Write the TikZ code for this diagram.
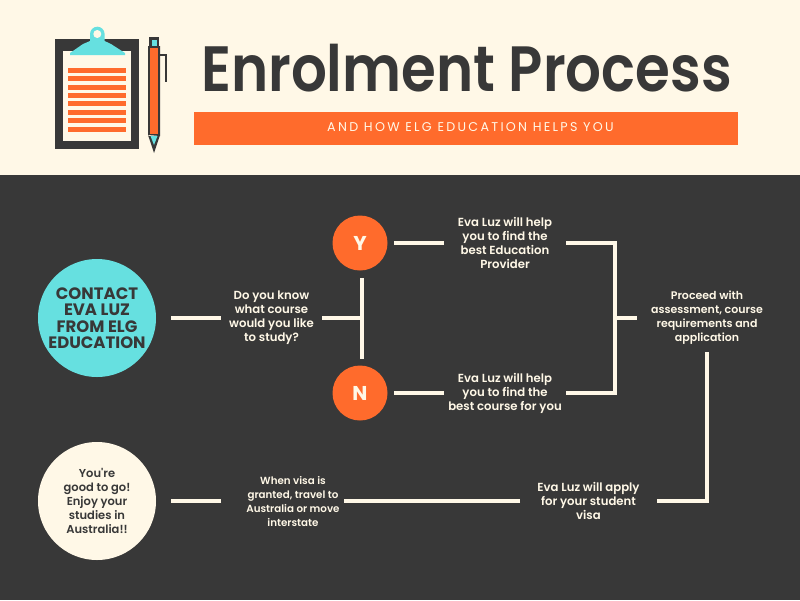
\documentclass[tikz,border=0pt]{standalone}
\usepackage{xcolor}
\usepackage{fontspec}
\setmainfont{Poppins}
\newfontfamily\medfont{Poppins SemiBold}
\newfontfamily\spacedfont[LetterSpace=18]{Poppins}
\definecolor{cream}{HTML}{FFF8E7}
\definecolor{ink}{HTML}{383838}
\definecolor{flame}{HTML}{FF6B2C}
\definecolor{aqua}{HTML}{66E0E0}
\usepackage{tikz}
\usetikzlibrary{calc}

\tikzset{
	link/.style={draw=cream,line width=4pt},
	say/.style={text=cream,font=\medfont\fontsize{#1}{14}\selectfont,align=center,inner sep=0pt,outer sep=0pt},
	say/.default=11.7,
	bigdisc/.style={circle,inner sep=0pt,minimum size=118pt,outer sep=15pt,align=center},
	choice/.style={circle,fill=flame,text=cream,inner sep=0pt,minimum size=55pt,outer sep=6.5pt,font=\bfseries\fontsize{20}{20}\selectfont}
}

\begin{document}
\begin{tikzpicture}[
		x=1pt,
		y=-1pt,
		node distance=150pt
	  ]
	  \useasboundingbox (0,0) rectangle (800,600);

	  % header and dark panel
	  \fill[cream] (0,0) rectangle (800,175);
	  \fill[ink] (0,175) rectangle (800,600);
	  \fill[flame] (194,112) rectangle (738,145);

	  \node[text=ink,font=\medfont\fontsize{64}{70}\selectfont,inner sep=0pt,transform shape,xscale=.88] (title) at (466.5,68) {Enrolment Process};
	  \node[text=cream,font=\spacedfont\fontsize{12.7}{14}\selectfont,inner sep=0pt] (subtitle) at (470.5,127.5) {AND HOW ELG EDUCATION HELPS YOU};

	  % clipboard
	  \fill[ink] (55,39) rectangle (139,149);
	  \fill[cream] (63,51) rectangle (131,141);
	  \foreach \rowy in {70,78.5,87,95.3,103.7,112.2,120.7,129}
	  	\fill[flame] (68,\rowy-2.5) rectangle (126,\rowy+2.5);
	  \fill[aqua] (70,55) -- (70,53) -- (83,44) -- (90,41) -- (90,34) arc (180:360:7.3) -- (104.6,41) -- (111,44) -- (125,53) -- (125,55) -- cycle;
	  \fill[cream] (97.3,34) circle (4);

	  % pen
	  \fill[ink] (149,37) rectangle (159,47);
	  \fill[aqua] (152,40) rectangle (156.5,47);
	  \fill[ink] (148,46) rectangle (160,136) -- (160,135) -- (154,153) -- (148,135) -- cycle;
	  \fill[flame] (150,48) rectangle (158,134);
	  \fill[aqua] (150.5,136) -- (157.5,136) -- (154,145) -- cycle;
	  \draw[ink,line width=1.5pt] (160,55) -- (166,55) -- (166,82);

	  % the steps
	  \node[bigdisc,fill=aqua,text=ink,font=\bfseries\fontsize{16.5}{16.5}\selectfont] (contact) at (97,318) {CONTACT\\EVA LUZ\\FROM ELG\\EDUCATION};
	  \node[say,minimum width=101pt] (question) [right of=contact,node distance=174.5pt] {Do you know\\what course\\would you like\\to study?};
	  \node[choice] (yes) at (360,243) {Y};
	  \node[choice] (no) [below of=yes] {N};
	  \node[say,minimum width=122pt] (findedu) [right of=yes,node distance=145pt] {Eva Luz will help\\you to find the\\best Education\\Provider};
	  \node[say,minimum width=122pt] (findcourse) [right of=no,node distance=145pt] {Eva Luz will help\\you to find the\\best course for you};
	  \node[say=11,minimum width=140pt,minimum height=68pt] (proceed) at (707,318) {Proceed with\\assessment, course\\requirements and\\application};
	  \node[say,minimum width=137pt] (apply) at (588.5,501) {Eva Luz will apply\\for your student\\visa};
	  \node[say=10.3,minimum width=102pt] (visa) [left of=apply,node distance=295.5pt] {When visa is\\granted, travel to\\Australia or move\\interstate};
	  \node[bigdisc,fill=cream,text=ink,font=\medfont\fontsize{11.5}{14.2}\selectfont] (done) [left of=visa,node distance=196pt] {You're\\good to go!\\Enjoy your\\studies in\\Australia!!};

	  \coordinate (forktop) at (362,278);
	  \coordinate (fork) at (362,318);
	  \coordinate (forkend) at (362,359);
	  \coordinate (merge) at (615,318);

	  \path[link] (contact) edge (question)
	  			(question) edge (fork)
	  			(forktop) edge (forkend)
	  			(yes) edge (findedu)
	  			(no) edge (findcourse)
	  			(merge) edge (proceed)
	  			(apply) edge (visa)
	  			(visa) edge [shorten <=21pt] (done);
	  \draw[link] (findedu) -| (merge) |- (findcourse);
	  \draw[link] (proceed) |- (apply);

\end{tikzpicture}
\end{document}
